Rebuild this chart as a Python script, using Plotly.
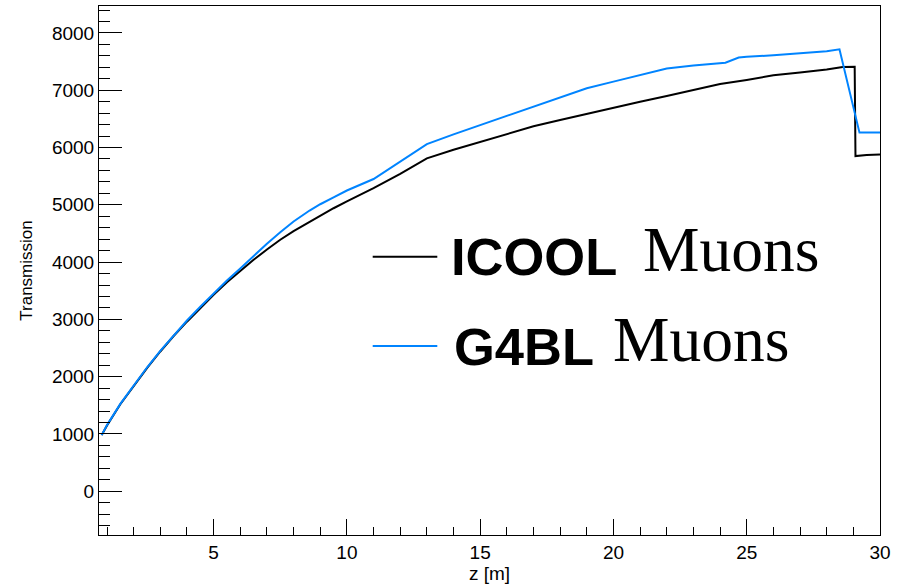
import plotly.graph_objects as go

# ICOOL muons
icool_z = [0.8, 1.0, 1.5, 2.0, 2.5, 3.0, 3.5, 4.0, 4.5, 5.0, 5.5, 6.0, 6.5, 7.0, 7.5, 8.0,
           8.6, 9.0, 9.5, 10, 11, 12, 13, 14, 15, 16, 17, 18, 19,
           20, 21, 22, 23, 24, 25, 26, 27, 28, 28.6, 29.05, 29.08, 29.5, 30]
icool_n = [980, 1150, 1520, 1840, 2150, 2440, 2710, 2960, 3200, 3430, 3650, 3850, 4040, 4220,
           4390, 4540, 4705, 4810, 4940, 5060, 5290, 5540, 5810,
           5960, 6100, 6240, 6370, 6480, 6590, 6690, 6800, 6900, 7010, 7110, 7180, 7260,
           7310, 7360, 7405, 7410, 5850, 5870, 5880]

# G4BL muons
g4bl_z = [0.8, 1.0, 1.5, 2.0, 2.5, 3.0, 3.5, 4.0, 4.5, 5.0, 5.5, 6.0, 6.5, 7.0, 7.5, 8.0,
          8.6, 9.0, 9.5, 10, 11, 12, 13, 14, 15, 16, 17, 18, 19,
          20, 21, 22, 23, 24, 24.2, 24.7, 25, 26, 27, 28, 28.48, 29.23, 30]
g4bl_n = [980, 1155, 1525, 1850, 2160, 2450, 2725, 2980, 3220, 3450, 3680, 3890, 4110, 4320,
          4520, 4710, 4900, 5010, 5130, 5250, 5450, 5750,
          6060, 6230, 6390, 6550, 6710, 6870, 7035, 7150, 7265, 7380, 7430, 7470, 7480,
          7570, 7585, 7610, 7640, 7680, 7714, 6260, 6260]

x_range = [0.7, 30]
y_range = [-763, 8470]

BLACK = "black"
BLUE = "rgb(0,132,255)"
SANS = "Liberation Sans, Arial, sans-serif"
SERIF = "Liberation Serif, Times New Roman, serif"

fig = go.Figure()
fig.add_trace(go.Scatter(x=icool_z, y=icool_n, mode="lines",
                         line=dict(color=BLACK, width=2), name="ICOOL Muons"))
fig.add_trace(go.Scatter(x=g4bl_z, y=g4bl_n, mode="lines",
                         line=dict(color=BLUE, width=2), name="G4BL Muons"))

W, H = 905, 586
L, R, T, B = 99, 25, 6, 51
pw, ph = W - L - R, H - T - B


def px(xp):
    return (xp - L) / pw


def py(yp):
    return (H - B - yp) / ph


fig.update_layout(
    width=W, height=H,
    margin=dict(l=L, r=R, t=T, b=B, pad=0, autoexpand=False),
    paper_bgcolor="white", plot_bgcolor="white",
    showlegend=False,
    font=dict(family=SANS, color="black", size=19),
    xaxis=dict(range=x_range, showgrid=False, zeroline=False, automargin=False,
               showline=True, mirror=True, linecolor="black", linewidth=1,
               ticks="inside", ticklen=16, tickwidth=1, tickcolor="black",
               dtick=5, tick0=0,
               minor=dict(ticks="inside", ticklen=8, dtick=1, tick0=0,
                          tickcolor="black", tickwidth=1, showgrid=False),
               tickfont=dict(size=19, family=SANS),
               title=dict(text="z [m]", font=dict(size=19, family=SANS), standoff=2)),
    yaxis=dict(range=y_range, showgrid=False, zeroline=False, automargin=False,
               showline=True, mirror=True, linecolor="black", linewidth=1,
               ticks="inside", ticklen=23, tickwidth=1, tickcolor="black",
               dtick=1000, tick0=0,
               minor=dict(ticks="inside", ticklen=11, dtick=200, tick0=0,
                          tickcolor="black", tickwidth=1, showgrid=False),
               tickfont=dict(size=19, family=SANS),
               title=dict(text="Transmission", font=dict(size=17, family=SANS), standoff=14)),
)

# legend samples
fig.add_shape(type="line", xref="paper", yref="paper",
              x0=px(372.7), x1=px(437.3), y0=py(256.7), y1=py(256.7),
              line=dict(color=BLACK, width=2))
fig.add_shape(type="line", xref="paper", yref="paper",
              x0=px(372.7), x1=px(437.3), y0=py(346), y1=py(346),
              line=dict(color=BLUE, width=2))

ann = [
    ("<b>ICOOL</b>", 449, 256.8, 52.5, SANS),
    ("Muons", 641, 249.7, 63.5, SERIF),
    ("<b>G4BL</b>", 452, 346.8, 52.5, SANS),
    ("Muons", 611, 339.7, 63.5, SERIF),
]
for text, x, y, s, fam in ann:
    fig.add_annotation(text=text, xref="paper", yref="paper", x=px(x), y=py(y),
                       xanchor="left", yanchor="middle", showarrow=False,
                       font=dict(size=s, family=fam, color="black"))

fig.write_html("out.html", config={"displayModeBar": False},
               post_script="document.body.style.margin='0';document.body.style.padding='0';")
